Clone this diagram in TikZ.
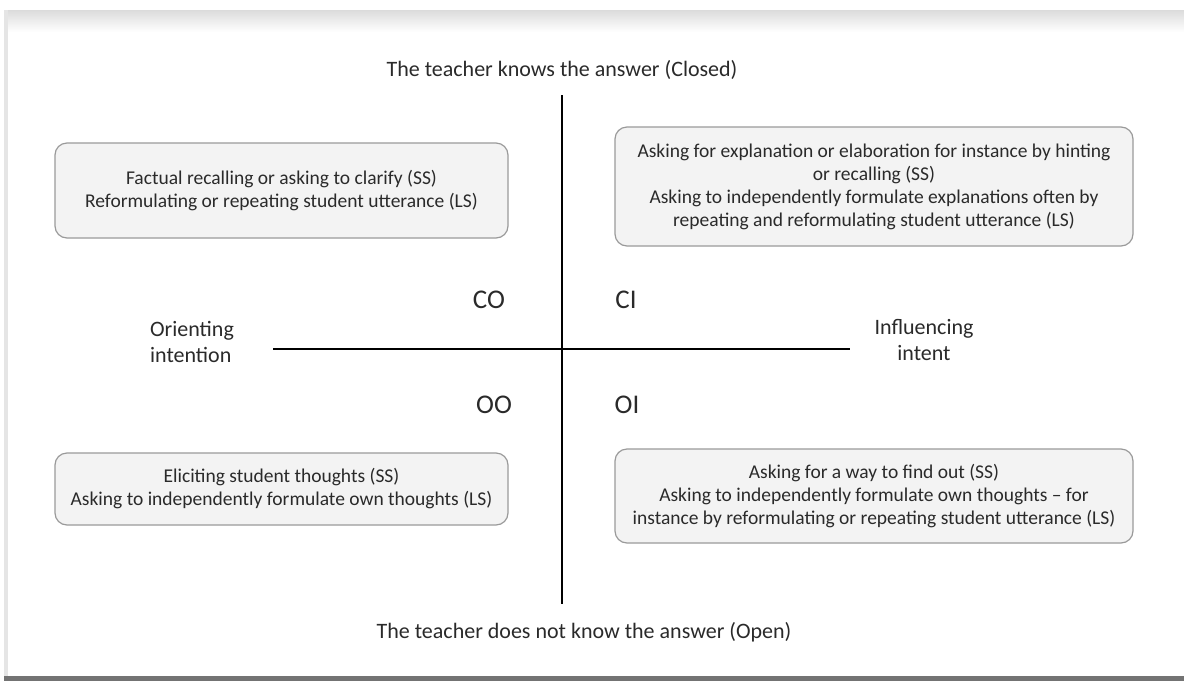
\documentclass[tikz,border=0pt]{standalone}
\usepackage{fontspec}
\setmainfont{Carlito}
\definecolor{txt}{HTML}{2A2A2A}
\definecolor{boxfill}{HTML}{F3F3F3}
\definecolor{boxline}{HTML}{9A9A9A}
\begin{document}
\begin{tikzpicture}[x=1pt,y=-1pt,
  quad/.style={draw=boxline, line width=1.2pt, fill=boxfill, rounded corners=12pt,
    align=center, inner sep=0pt, text=txt, font=\fontsize{19.5}{23}\selectfont},
  axislabel/.style={text=txt, font=\fontsize{22}{26}\selectfont, align=center},
  quadlabel/.style={text=txt, font=\fontsize{27}{30}\selectfont},
  axis/.style={line width=2.8pt, black}]
\useasboundingbox (0,0) rectangle (1184,681);
% page frame
\fill[white] (0,0) rectangle (1184,681);
\shade[top color=black!14, bottom color=white] (8,10) rectangle (1184,32);
\fill[black!10] (4,10) rectangle (8,678);
\fill[black!55] (4,676) rectangle (1184,681);

% axis ends
\coordinate (top) at (562,95);
\coordinate (bottom) at (562,604);
\coordinate (left) at (273,349);
\coordinate (right) at (850,349);
\draw[axis] (top) -- (bottom);
\draw[axis] (left) -- (right);

\node[axislabel] (closed) at (562,70) {The teacher knows the answer (Closed)};
\node[axislabel] (open) at (584,632) {The teacher does not know the answer (Open)};
\node[axislabel, align=left] (orient) at (192,342) {Orienting\\intention};
\node[axislabel] (influ) at (924,340) {Influencing\\intent};

\node[quadlabel] (CO) at (489,300) {CO};
\node[quadlabel] (CI) at (626,300) {CI};
\node[quadlabel] (OO) at (494,405) {OO};
\node[quadlabel] (OI) at (627,405) {OI};

\node[quad, minimum width=453pt, minimum height=95pt] (tl) at (281.5,190.5)
  {Factual recalling or asking to clarify (SS)\\Reformulating or repeating student utterance (LS)};
\node[quad, minimum width=518pt, minimum height=119pt] (tr) at (874,186.5)
  {Asking for explanation or elaboration for instance by hinting\\or recalling (SS)\\Asking to independently formulate explanations often by\\repeating and reformulating student utterance (LS)};
\node[quad, minimum width=453pt, minimum height=72pt] (bl) at (281.5,489)
  {Eliciting student thoughts (SS)\\Asking to independently formulate own thoughts (LS)};
\node[quad, minimum width=518pt, minimum height=94pt] (br) at (874,496)
  {Asking for a way to find out (SS)\\Asking to independently formulate own thoughts -- for\\instance by reformulating or repeating student utterance (LS)};
\end{tikzpicture}
\end{document}
